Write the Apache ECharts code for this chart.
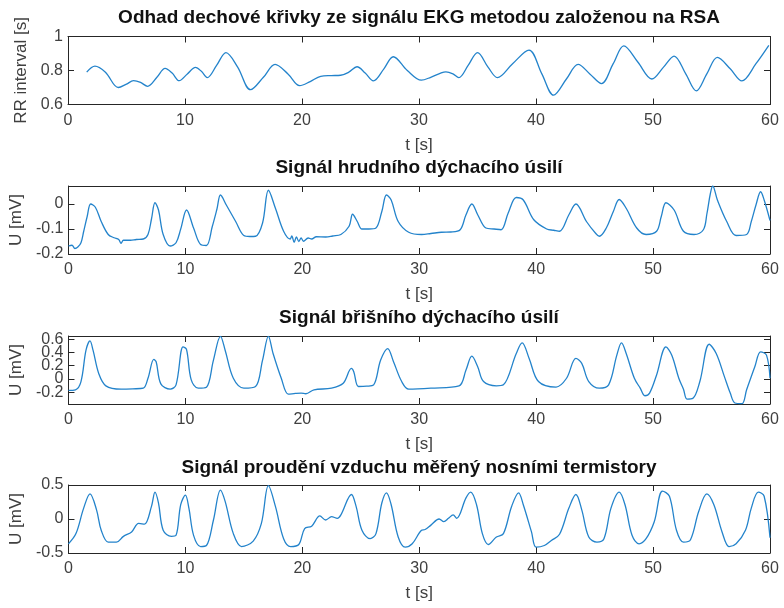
<!DOCTYPE html>
<html>
<head>
<meta charset="utf-8">
<script src="https://cdn.jsdelivr.net/npm/echarts@6/dist/echarts.min.js"></script>
<style>
html,body{margin:0;padding:0;background:#fff;}
#c{width:784px;height:608px;}
</style>
</head>
<body>
<div id="c"></div>
<script>
// ---- Data ----
const titles = [
  'Odhad dechové křivky ze signálu EKG metodou založenou na RSA',
  'Signál hrudního dýchacího úsilí',
  'Signál břišního dýchacího úsilí',
  'Signál proudění vzduchu měřený nosními termistory'
];
const yNames = ['RR interval [s]', 'U [mV]', 'U [mV]', 'U [mV]'];
const xTicks = [0, 10, 20, 30, 40, 50, 60];
const yTicks1 = [0.6, 0.8, 1];
const yTicks2 = [-0.2, -0.1, 0];
const yTicks3 = [-0.2, 0, 0.2, 0.4, 0.6];
const yTicks4 = [-0.5, 0, 0.5];

// RR interval estimate
const t1 = [1.6, 2.3, 3.2, 4.3, 5.0, 5.6, 6.2, 6.8, 7.6, 8.3, 8.9, 9.5, 10.2, 10.9, 11.4, 11.9, 12.7, 13.5, 14.5, 15.6, 16.7, 17.7, 18.8, 19.8, 20.7, 21.6, 22.5, 23.3, 24.0, 24.7, 25.4, 26.1, 27.0, 27.8, 29.0, 30.2, 31.0, 31.9, 32.3, 32.9, 33.4, 34.2, 35.0, 35.9, 36.7, 38.0, 39.4, 40.5, 41.5, 42.6, 43.6, 44.6, 45.6, 46.6, 47.5, 48.7, 49.9, 50.9, 51.8, 52.8, 53.7, 54.6, 55.5, 56.6, 57.6, 58.8, 59.9];
const rr = [0.79, 0.826, 0.79, 0.70, 0.72, 0.74, 0.73, 0.707, 0.76, 0.812, 0.785, 0.74, 0.78, 0.818, 0.795, 0.758, 0.83, 0.905, 0.82, 0.687, 0.76, 0.836, 0.78, 0.711, 0.735, 0.766, 0.77, 0.772, 0.79, 0.822, 0.785, 0.739, 0.81, 0.881, 0.80, 0.743, 0.76, 0.786, 0.792, 0.78, 0.758, 0.83, 0.905, 0.82, 0.758, 0.84, 0.92, 0.78, 0.655, 0.75, 0.836, 0.78, 0.723, 0.84, 0.945, 0.85, 0.75, 0.82, 0.885, 0.78, 0.68, 0.78, 0.877, 0.81, 0.739, 0.84, 0.948];

// Chest effort
const t2 = [0, 0.3, 0.55, 0.8, 1.07, 1.3, 1.6, 1.9, 2.3, 2.8, 3.4, 3.9, 4.3, 4.5, 4.7, 5.3, 5.8, 6.4, 6.8, 7.1, 7.4, 7.7, 8.1, 8.7, 9.2, 9.6, 10.1, 10.7, 11.3, 11.8, 12.3, 12.7, 13.0, 13.5, 14.3, 15.0, 15.5, 16.0, 16.6, 17.1, 17.7, 18.4, 18.96, 19.1, 19.3, 19.5, 19.7, 19.9, 20.1, 20.5, 20.8, 21.2, 22.0, 22.6, 23.3, 24.0, 24.3, 24.7, 25.1, 25.7, 26.3, 26.8, 27.2, 27.6, 28.2, 29.1, 30.2, 31.0, 31.9, 32.7, 33.5, 34.0, 34.5, 35.0, 35.7, 36.4, 37.0, 37.6, 38.3, 38.9, 39.8, 40.9, 41.5, 42.0, 42.8, 43.4, 44.3, 45.1, 45.4, 46.0, 46.6, 47.1, 47.7, 48.6, 49.4, 50.3, 50.7, 51.1, 51.8, 52.6, 53.5, 54.3, 54.6, 54.9, 55.1, 55.5, 56.3, 57.1, 58.0, 58.4, 58.8, 59.2, 59.5, 60];
const chest = [-0.168, -0.165, -0.178, -0.172, -0.155, -0.11, -0.05, 0.0, -0.013, -0.07, -0.122, -0.135, -0.142, -0.157, -0.145, -0.145, -0.142, -0.14, -0.122, -0.06, 0.005, -0.024, -0.122, -0.168, -0.155, -0.1, -0.024, -0.096, -0.162, -0.166, -0.09, -0.02, 0.036, -0.004, -0.07, -0.126, -0.13, -0.129, -0.076, 0.055, -0.017, -0.109, -0.14, -0.128, -0.153, -0.132, -0.15, -0.136, -0.149, -0.136, -0.14, -0.131, -0.132, -0.128, -0.122, -0.089, -0.041, -0.07, -0.1, -0.1, -0.096, -0.03, 0.036, 0.016, -0.07, -0.113, -0.122, -0.118, -0.113, -0.112, -0.103, -0.043, 0.0, -0.043, -0.096, -0.1, -0.103, -0.037, 0.026, 0.016, -0.063, -0.1, -0.105, -0.109, -0.043, 0.0, -0.07, -0.118, -0.129, -0.096, -0.03, 0.018, -0.017, -0.096, -0.122, -0.109, -0.05, 0.005, -0.024, -0.109, -0.122, -0.103, -0.04, 0.042, 0.072, 0.016, -0.07, -0.126, -0.122, -0.07, -0.004, 0.049, 0.016, -0.066];

// Abdominal effort
const t3 = [0, 0.6, 1.07, 1.5, 1.84, 2.1, 2.6, 3.2, 4.5, 5.5, 6.4, 6.8, 7.3, 7.5, 7.9, 8.7, 9.2, 9.8, 10.1, 10.5, 11.1, 11.8, 12.4, 13.0, 13.4, 14.1, 15.0, 16.0, 16.6, 17.1, 17.5, 18.2, 18.8, 19.4, 19.9, 20.3, 21.0, 22.5, 23.5, 24.2, 24.4, 24.8, 25.5, 26.1, 26.7, 27.3, 27.8, 28.5, 29.1, 31.0, 33.4, 34.0, 34.5, 35.0, 35.5, 36.6, 37.2, 38.3, 38.8, 39.4, 40.2, 41.7, 42.6, 43.4, 43.9, 44.5, 45.4, 46.2, 46.9, 47.3, 47.7, 48.4, 48.9, 49.3, 49.7, 50.3, 51.1, 51.6, 52.2, 52.6, 52.9, 53.4, 54.0, 54.8, 55.4, 56.1, 56.6, 57.0, 57.6, 58.0, 58.7, 59.2, 59.7, 60];
const abdomen = [-0.175, -0.165, -0.04, 0.435, 0.575, 0.435, 0.075, -0.105, -0.155, -0.15, -0.14, 0.01, 0.295, 0.26, -0.075, -0.155, -0.09, 0.485, 0.445, -0.015, -0.14, -0.125, 0.285, 0.645, 0.435, 0.01, -0.14, -0.115, 0.285, 0.645, 0.385, 0.01, -0.23, -0.22, -0.215, -0.225, -0.165, -0.14, -0.065, 0.16, 0.11, -0.115, -0.11, -0.09, 0.285, 0.46, 0.26, -0.04, -0.155, -0.14, -0.105, 0.135, 0.345, 0.185, -0.04, -0.105, -0.09, 0.385, 0.545, 0.31, -0.04, -0.125, 0.01, 0.31, 0.235, -0.04, -0.14, -0.09, 0.36, 0.545, 0.385, 0.01, -0.14, -0.255, -0.215, 0.06, 0.485, 0.36, 0.01, -0.155, -0.305, -0.295, -0.04, 0.525, 0.385, 0.035, -0.215, -0.365, -0.375, -0.165, 0.185, 0.41, 0.36, 0.01];

// Nasal airflow
const t4 = [0, 0.64, 1.3, 1.84, 2.4, 2.8, 3.4, 4.1, 4.7, 5.4, 6.0, 6.5, 7.1, 7.4, 7.7, 8.1, 8.8, 9.2, 9.6, 10.0, 10.3, 10.7, 11.3, 11.8, 12.4, 13.0, 13.4, 14.1, 14.8, 15.8, 16.5, 17.1, 17.7, 18.4, 19.0, 19.7, 20.2, 20.8, 21.5, 22.0, 22.5, 23.0, 23.3, 24.2, 24.6, 25.1, 25.8, 26.3, 26.8, 27.2, 27.6, 28.2, 28.8, 29.4, 30.2, 30.5, 31.0, 31.7, 32.1, 32.5, 32.9, 33.2, 34.0, 34.4, 34.9, 35.4, 35.9, 36.6, 37.2, 37.9, 38.5, 38.9, 39.6, 40.0, 40.7, 41.3, 42.0, 42.8, 43.4, 43.9, 44.5, 45.2, 45.8, 46.4, 47.1, 47.6, 48.2, 48.8, 49.4, 50.1, 50.8, 51.4, 52.0, 52.6, 53.2, 53.9, 54.6, 55.2, 55.9, 56.5, 57.1, 57.9, 58.4, 59.0, 59.5, 60];
const airflow = [-0.365, -0.215, 0.16, 0.37, 0.135, -0.165, -0.34, -0.34, -0.255, -0.19, -0.065, -0.075, 0.185, 0.395, 0.235, -0.165, -0.255, -0.24, 0.21, 0.35, 0.16, -0.24, -0.405, -0.39, -0.015, 0.425, 0.26, -0.215, -0.405, -0.325, -0.065, 0.49, 0.185, -0.29, -0.405, -0.375, -0.14, -0.105, 0.045, -0.015, 0.035, 0.01, 0.06, 0.36, 0.185, -0.165, -0.29, -0.215, 0.235, 0.385, 0.21, -0.265, -0.415, -0.365, -0.165, -0.155, -0.09, 0.0, -0.04, 0.01, 0.06, 0.01, 0.31, 0.395, 0.21, -0.215, -0.375, -0.265, -0.215, 0.185, 0.385, 0.21, -0.19, -0.415, -0.39, -0.315, -0.225, 0.16, 0.36, 0.135, -0.265, -0.34, -0.29, 0.16, 0.395, 0.21, -0.24, -0.365, -0.29, -0.04, 0.41, 0.335, -0.165, -0.34, -0.305, 0.11, 0.37, 0.21, -0.19, -0.405, -0.365, -0.165, 0.16, 0.395, 0.335, -0.275];

// ---- Chart ----
const zip = (a, b) => a.map((v, i) => [v, b[i]]);
const seriesData = [zip(t1, rr), zip(t2, chest), zip(t3, abdomen), zip(t4, airflow)];
const yRanges = [[0.6, 1], [-0.2, 0.072], [-0.38, 0.65], [-0.5, 0.5]];
const yTickSets = [yTicks1, yTicks2, yTicks3, yTicks4];
const gridTops = [36.5, 186, 336, 485];
const gridH = 68;
const titleTops = [8, 158, 308, 458];

const axisCol = '#262626';
const labCol = '#404040';
const FONT = '"Liberation Sans", Arial, sans-serif';

const grid = [], xAxis = [], yAxis = [], series = [], title = [];
const labelStyle = { fontFamily: FONT, fontSize: 16, color: labCol };
for (let i = 0; i < 4; i++) {
  grid.push({ left: 68, right: 14, top: gridTops[i], height: gridH, containLabel: false });
  title.push({
    text: titles[i], left: 419, textAlign: 'center', top: titleTops[i], padding: 0,
    textStyle: { fontFamily: FONT, fontSize: 19, fontWeight: 'bold', color: '#111' }
  });
  const xb = {
    type: 'value', gridIndex: i, min: xTicks[0], max: xTicks[xTicks.length - 1], interval: 10,
    axisLine: { show: true, onZero: false, lineStyle: { color: axisCol, width: 1 } },
    axisTick: { show: true, inside: true, length: 6, lineStyle: { color: axisCol, width: 1 } },
    splitLine: { show: false }
  };
  xAxis.push(Object.assign({}, xb, {
    position: 'bottom',
    axisLabel: Object.assign({ show: true, showMinLabel: true, showMaxLabel: true, margin: 8 }, labelStyle),
    name: 't [s]', nameLocation: 'middle', nameGap: 32,
    nameTextStyle: { fontFamily: FONT, fontSize: 17, color: labCol }
  }));
  xAxis.push(Object.assign({}, xb, { position: 'top', axisLabel: { show: false } }));
  const yt = yTickSets[i];
  const yb = {
    type: 'value', gridIndex: i, min: yRanges[i][0], max: yRanges[i][1],
    axisLine: { show: true, onZero: false, lineStyle: { color: axisCol, width: 1 } },
    axisTick: { show: true, inside: true, length: 6, customValues: yt, lineStyle: { color: axisCol, width: 1 } },
    splitLine: { show: false }
  };
  // labels split in two alternating sets so that none is dropped by overlap handling
  const setA = yt.filter((_, k) => k % 2 === 0);
  const setB = yt.filter((_, k) => k % 2 === 1);
  const fmt = v => String(Math.round(v * 10) / 10);
  yAxis.push(Object.assign({}, yb, {
    position: 'left',
    axisLabel: Object.assign({ show: true, customValues: setA, showMinLabel: true, showMaxLabel: true, hideOverlap: false, margin: 5, formatter: fmt }, labelStyle),
    name: yNames[i], nameLocation: 'middle', nameGap: 33, nameRotate: 90,
    nameTextStyle: { fontFamily: FONT, fontSize: 17, color: labCol }
  }));
  yAxis.push(Object.assign({}, yb, { position: 'right', axisLabel: { show: false } }));
  yAxis.push(Object.assign({}, yb, {
    position: 'left',
    axisLine: { show: false, onZero: false }, axisTick: { show: false },
    axisLabel: Object.assign({ show: true, customValues: setB, showMinLabel: true, showMaxLabel: true, hideOverlap: false, margin: 5, formatter: fmt }, labelStyle)
  }));
  series.push({
    type: 'line', xAxisIndex: 2 * i, yAxisIndex: 3 * i, data: seriesData[i],
    showSymbol: false, smooth: 0.35, clip: true,
    lineStyle: { color: '#2383cb', width: 1.3 }
  });
}

const chart = echarts.init(document.getElementById('c'), null, { renderer: 'canvas' });
chart.setOption({
  animation: false, backgroundColor: '#ffffff',
  title, grid, xAxis, yAxis, series
});
</script>
</body>
</html>
